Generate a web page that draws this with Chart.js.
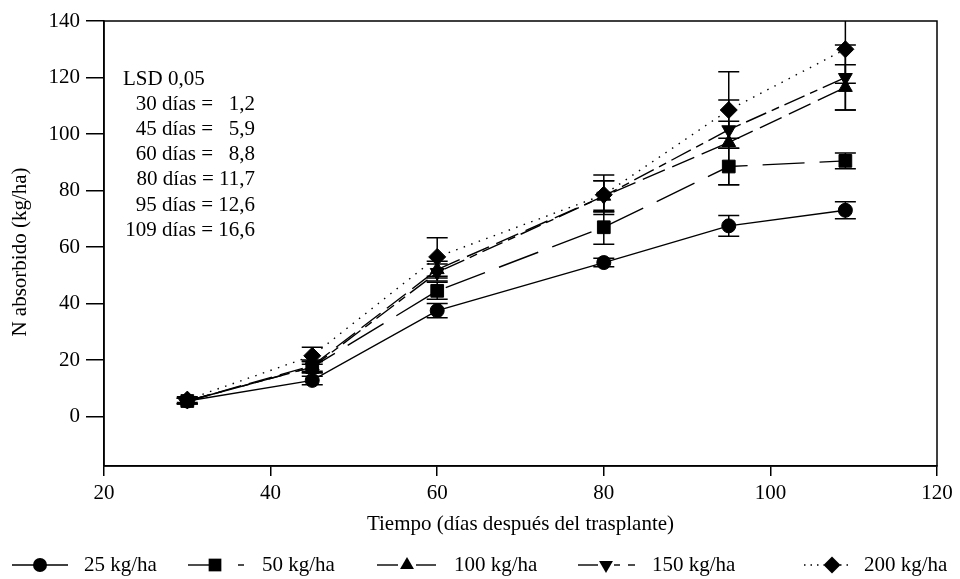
<!DOCTYPE html>
<html><head><meta charset="utf-8">
<script src="https://cdn.jsdelivr.net/npm/chart.js@4/dist/chart.umd.min.js"></script>
<style>html,body{margin:0;padding:0;background:#fff}</style>
</head><body>
<canvas id="c" width="960" height="579"></canvas>
<script>
// ---- data ----
const days = [30, 45, 60, 80, 95, 109];
const seriesLabels = ['25 kg/ha', '50 kg/ha', '100 kg/ha', '150 kg/ha', '200 kg/ha'];
const n25  = [5.5, 12.8, 37.5, 54.5, 67.5, 73.0];
const n50  = [5.5, 17.5, 44.5, 67.0, 88.5, 90.5];
const n100 = [5.5, 18.0, 52.0, 78.0, 97.0, 116.5];
const n150 = [5.5, 17.5, 51.0, 78.0, 101.5, 120.0];
const n200 = [6.0, 21.5, 56.5, 78.5, 108.5, 130.0];
const e25  = [1.0, 1.5, 2.5, 1.5, 3.7, 3.0];
const e50  = [1.0, 2.0, 3.0, 6.0, 6.5, 2.8];
const e100 = [1.0, 2.0, 3.0, 5.5, 15.0, 8.0];
const e150 = [1.0, 2.0, 3.0, 5.5, 3.0, 11.5];
const e200 = [1.0, 3.0, 6.8, 7.0, 13.5, 12.0];
const xTicks = [20, 40, 60, 80, 100, 120];
const yTicks = [0, 20, 40, 60, 80, 100, 120, 140];
const lsdTitle = 'LSD 0,05';
const lsdLines = ['30 días =   1,2', '45 días =   5,9', '60 días =   8,8', '80 días = 11,7', '95 días = 12,6', '109 días = 16,6'];
const xTitle = 'Tiempo (días después del trasplante)';
const yTitle = 'N absorbido (kg/ha)';

const FONT = '"Liberation Serif", "Times New Roman", serif';
const FS = 21;
const values = [n25, n50, n100, n150, n200];
const errs = [e25, e50, e100, e150, e200];
const styles = [
  {pointStyle: 'circle', radius: 7, rotation: 0, dash: []},
  {pointStyle: 'rect', radius: 9, rotation: 0, dash: [42, 15]},
  {pointStyle: 'triangle', radius: 8, rotation: 0, dash: [24, 8]},
  {pointStyle: 'triangle', radius: 8, rotation: 180, dash: [22, 6, 8, 6]},
  {pointStyle: 'rectRot', radius: 8.5, rotation: 0, dash: [1.5, 6.5]}
];

const datasets = values.map((v, k) => ({
  label: seriesLabels[k],
  data: days.map((d, i) => ({x: d, y: v[i]})),
  borderColor: '#000',
  backgroundColor: '#000',
  borderWidth: 1.4,
  borderDash: styles[k].dash,
  pointStyle: styles[k].pointStyle,
  pointRadius: styles[k].radius,
  pointRotation: styles[k].rotation,
  pointBorderWidth: 1,
  pointBackgroundColor: '#000',
  pointBorderColor: '#000',
  tension: 0,
  fill: false
}));

const errorBars = {
  id: 'errorBars',
  beforeDatasetsDraw(chart) {
    const {ctx, chartArea: a, scales: {x, y}} = chart;
    ctx.save();
    ctx.beginPath();
    ctx.rect(a.left, a.top, a.right - a.left, a.bottom - a.top);
    ctx.clip();
    ctx.strokeStyle = '#000';
    ctx.lineWidth = 1.5;
    ctx.setLineDash([]);
    values.forEach((v, k) => {
      days.forEach((d, i) => {
        const px = x.getPixelForValue(d);
        const t = y.getPixelForValue(v[i] + errs[k][i]);
        const b = y.getPixelForValue(v[i] - errs[k][i]);
        ctx.beginPath();
        ctx.moveTo(px, t); ctx.lineTo(px, b);
        ctx.moveTo(px - 10.5, t); ctx.lineTo(px + 10.5, t);
        ctx.moveTo(px - 10.5, b); ctx.lineTo(px + 10.5, b);
        ctx.stroke();
      });
    });
    ctx.restore();
  }
};

function drawMarker(ctx, style, x, y) {
  ctx.save();
  ctx.fillStyle = '#000';
  ctx.beginPath();
  const r = style.radius;
  if (style.pointStyle === 'circle') { ctx.arc(x, y, r, 0, Math.PI * 2); }
  else if (style.pointStyle === 'rect') { const s = r * Math.SQRT1_2; ctx.rect(x - s, y - s, 2 * s, 2 * s); }
  else if (style.pointStyle === 'rectRot') { ctx.moveTo(x, y - r); ctx.lineTo(x + r, y); ctx.lineTo(x, y + r); ctx.lineTo(x - r, y); ctx.closePath(); }
  else if (style.pointStyle === 'triangle') {
    const s = style.rotation === 180 ? -1 : 1;
    ctx.moveTo(x, y - s * r); ctx.lineTo(x + r * 0.87, y + s * r * 0.5); ctx.lineTo(x - r * 0.87, y + s * r * 0.5); ctx.closePath();
  }
  ctx.fill();
  ctx.restore();
}

// legend line pieces [from, to] around each marker
const legendItems = [
  {segs: [[12, 68]], m: 40, t: 84},
  {segs: [[188, 212], [238, 244]], m: 215, t: 262},
  {segs: [[377, 398], [416, 436]], m: 407, t: 454},
  {segs: [[578, 598], [614, 620], [628, 635]], m: 606, t: 652},
  {segs: [[804, 824], [840, 852]], m: 832, t: 864, dotted: true}
];

const extras = {
  id: 'extras',
  afterDraw(chart) {
    const {ctx, chartArea: a} = chart;
    ctx.save();
    ctx.strokeStyle = '#000';
    ctx.lineWidth = 1.5;
    ctx.setLineDash([]);
    ctx.strokeRect(a.left, a.top, a.right - a.left, a.bottom - a.top);
    ctx.fillStyle = '#000';
    ctx.font = FS + 'px ' + FONT;
    ctx.textBaseline = 'middle';
    ctx.textAlign = 'left';
    ctx.fillText(lsdTitle, 123, 79);
    const right = 255;
    lsdLines.forEach((s, i) => {
      const w = ctx.measureText(s).width;
      ctx.fillText(s, right - w, 104 + i * 25.3);
    });
    ctx.textAlign = 'center';
    ctx.fillText(xTitle, (a.left + a.right) / 2, 524);
    ctx.save();
    ctx.translate(20, 252);
    ctx.rotate(-Math.PI / 2);
    ctx.fillText(yTitle, 0, 0);
    ctx.restore();
    const ly = 565;
    legendItems.forEach((it, k) => {
      ctx.lineWidth = 1.4;
      ctx.setLineDash(it.dotted ? [1.5, 5] : []);
      it.segs.forEach(sg => {
        ctx.beginPath();
        ctx.moveTo(sg[0], ly); ctx.lineTo(sg[1], ly);
        ctx.stroke();
      });
      ctx.setLineDash([]);
      drawMarker(ctx, styles[k], it.m, ly);
      ctx.textAlign = 'left';
      ctx.fillText(seriesLabels[k], it.t, ly);
    });
    ctx.restore();
  }
};

Chart.defaults.font.family = FONT;
Chart.defaults.font.size = FS;
Chart.defaults.color = '#000';

new Chart(document.getElementById('c'), {
  type: 'line',
  data: {datasets},
  options: {
    responsive: false,
    animation: false,
    layout: {padding: {left: 0, top: 21, right: 23, bottom: 38}},
    plugins: {legend: {display: false}, tooltip: {enabled: false}},
    scales: {
      x: {
        type: 'linear', min: 20, max: 120,
        afterBuildTicks: s => { s.ticks = xTicks.map(v => ({value: v})); },
        afterFit: s => { s.height = 75; },
        ticks: {padding: 5, color: '#000', font: {size: FS}},
        grid: {drawOnChartArea: false, drawTicks: true, tickLength: 10, color: '#000', lineWidth: 1.5},
        border: {display: true, color: '#000', width: 1.5}
      },
      y: {
        type: 'linear', min: -17.5, max: 140,
        afterBuildTicks: s => { s.ticks = yTicks.map(v => ({value: v})); },
        afterFit: s => { s.width = 104; },
        ticks: {padding: 6, color: '#000', font: {size: FS}},
        grid: {drawOnChartArea: false, drawTicks: true, tickLength: 18, color: '#000', lineWidth: 1.5},
        border: {display: true, color: '#000', width: 1.5}
      }
    }
  },
  plugins: [errorBars, extras]
});
</script>
</body></html>
